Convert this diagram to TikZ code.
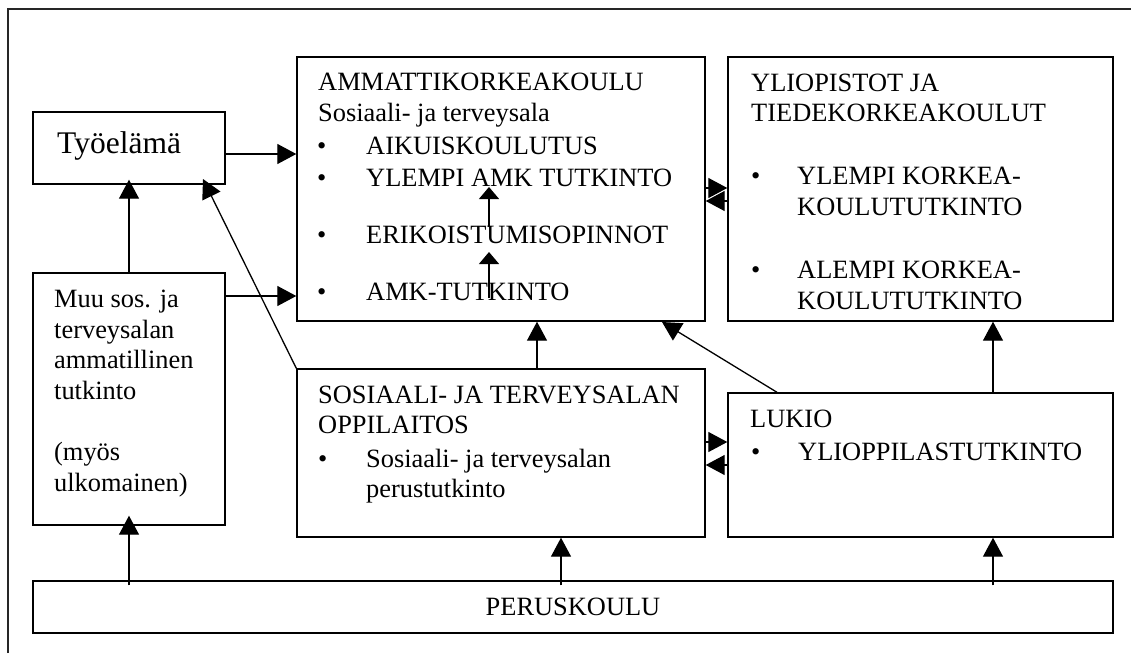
\documentclass[tikz,border=0pt]{standalone}
\usepackage{fontspec}
\setmainfont{Liberation Serif}
\usetikzlibrary{arrows.meta}
\begin{document}
\begin{tikzpicture}[x=1pt,y=-1pt,
  box/.style={draw, line width=1.4pt, inner sep=0pt, minimum width=#1},
  txt/.style={anchor=base west, inner sep=0pt, font=\fontsize{26.4}{31}\selectfont},
  big/.style={anchor=base west, inner sep=0pt, font=\fontsize{31.5}{36}\selectfont},
  arr/.style={line width=1.3pt, -{Triangle[length=19pt,width=20pt]}},
  arrs/.style={line width=1.3pt, -{Triangle[length=12pt,width=20pt]}}]
\useasboundingbox (0,0) rectangle (1131,653);

% outer frame (only its left and top sides fall on the page)
\draw[line width=1.4pt, black!85] (8,653) -- (8,9) -- (1131,9);

% boxes
\node[box=192pt, minimum height=72pt]  (tyo) at (129,148) {};
\node[box=192pt, minimum height=252pt] (muu) at (129,399) {};
\node[box=408pt, minimum height=264pt] (amk) at (501,189) {};
\node[box=385pt, minimum height=264pt] (yli) at (920.5,189) {};
\node[box=408pt, minimum height=168pt] (sos) at (501,453) {};
\node[box=385pt, minimum height=144pt] (luk) at (920.5,465) {};
\node[box=1080pt, minimum height=52pt] (per) at (573,607) {};

% Työelämä
\node[big] (tyot) at (57,153) {Työelämä};

% Muu sos. ja terveysalan ...
\node[txt] (m1) at (54,307.7) {Muu sos. ja};
\node[txt] (m2) at (54,338) {terveysalan};
\node[txt] (m3) at (54,368.5) {ammatillinen};
\node[txt] (m4) at (54,399) {tutkinto};
\node[txt] (m5) at (54,460.7) {(myös};
\node[txt] (m6) at (54,491) {ulkomainen)};

% Ammattikorkeakoulu
\node[txt] (a1) at (318,90.7) {AMMATTIKORKEAKOULU};
\node[txt] (a2) at (318,121.7) {Sosiaali- ja terveysala};
\node[txt] (ab1) at (317,154) {•};
\node[txt] (a3) at (366,154) {AIKUISKOULUTUS};
\node[txt] (ab2) at (317,186.7) {•};
\node[txt] (a4) at (366,186.7) {YLEMPI AMK TUTKINTO};
\node[txt] (ab3) at (317,243) {•};
\node[txt] (a5) at (366,243) {ERIKOISTUMISOPINNOT};
\node[txt] (ab4) at (317,300.7) {•};
\node[txt] (a6) at (366,300.7) {AMK-TUTKINTO};

% Yliopistot ja tiedekorkeakoulut
\node[txt] (y1) at (751,91) {YLIOPISTOT JA};
\node[txt] (y2) at (751,121.7) {TIEDEKORKEAKOULUT};
\node[txt] (yb1) at (751,184) {•};
\node[txt] (y3) at (797,184) {YLEMPI KORKEA-};
\node[txt] (y4) at (797,215) {KOULUTUTKINTO};
\node[txt] (yb2) at (751,278) {•};
\node[txt] (y5) at (797,278) {ALEMPI KORKEA-};
\node[txt] (y6) at (797,309) {KOULUTUTKINTO};

% Sosiaali- ja terveysalan oppilaitos
\node[txt] (s1) at (318,403) {SOSIAALI- JA TERVEYSALAN};
\node[txt] (s2) at (318,433) {OPPILAITOS};
\node[txt] (sb1) at (318,467) {•};
\node[txt] (s3) at (366,467) {Sosiaali- ja terveysalan};
\node[txt] (s4) at (366,497) {perustutkinto};

% Lukio
\node[txt] (l1) at (750,427) {LUKIO};
\node[txt] (lb1) at (751,460) {•};
\node[txt] (l2) at (798,460) {YLIOPPILASTUTKINTO};

% Peruskoulu
\node[txt, anchor=base] (p1) at (573,615) {PERUSKOULU};

% points used by connectors
\coordinate (tyoin) at (203,179);
\coordinate (amkin) at (662,322);
\coordinate (e1) at (489,298);
\coordinate (e2) at (489,252);
\coordinate (e3) at (489,227);
\coordinate (e4) at (489,187);

% connectors
\draw[arr] (tyo.east |- 0,154) -- (amk.west |- 0,154);
\draw[arr] (muu.east |- 0,296) -- (amk.west |- 0,296);
\draw[arr] (muu.north) -- ([yshift=5pt]tyo.south);
\draw[arr] (sos.north west) -- (tyoin);
\draw[arr] (sos.north -| 537,0) -- (amk.south -| 537,0);
\draw[arr] (luk.north -| 777,0) -- (amkin);
\draw[arr] (luk.north -| 993,0) -- (yli.south -| 993,0);
\draw[arr] (amk.east |- 0,188) -- (yli.west |- 0,188);
\draw[arr] (yli.west |- 0,201) -- (amk.east |- 0,201);
\draw[arr] (sos.east |- 0,442) -- (luk.west |- 0,442);
\draw[arr] (luk.west |- 0,465) -- (sos.east |- 0,465);
\draw[arr] ([yshift=-5pt]per.north -| 129,0) -- ([yshift=10pt]muu.south);
\draw[arr] ([yshift=-5pt]per.north -| 561,0) -- (sos.south -| 561,0);
\draw[arr] ([yshift=-5pt]per.north -| 993,0) -- (luk.south -| 993,0);
\draw[arrs] (e1) -- (e2);
\draw[arrs] (e3) -- (e4);
\end{tikzpicture}
\end{document}
